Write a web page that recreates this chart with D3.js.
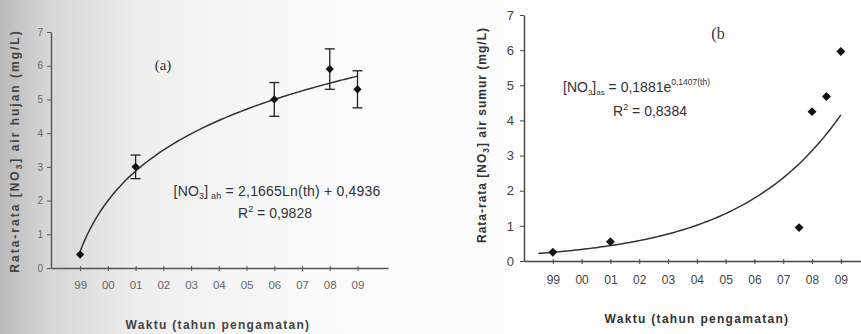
<!DOCTYPE html>
<html>
<head>
<meta charset="utf-8">
<script src="https://cdn.jsdelivr.net/npm/d3@7"></script>
<style>
  body { margin: 0; background: #fff; }
  svg { display: block; font-family: Arial, "Liberation Sans", sans-serif; }
</style>
</head>
<body>
<div id="chart"></div>
<script>
// year labels along both x axes (index 0 = 1999)
var yearLabels = ["99", "00", "01", "02", "03", "04", "05", "06", "07", "08", "09"];
var yTicks = [0, 1, 2, 3, 4, 5, 6, 7];

// panel (a): rain water nitrate, mean + error
var aIndex = [0, 2, 7, 9, 10];
var aMean  = [0.4, 3.0, 5.0, 5.9, 5.3];
var aErr   = [0, 0.35, 0.5, 0.6, 0.55];

// panel (b): well water nitrate
var bIndex = [0, 2, 8.55, 9, 9.5, 10];
var bValue = [0.25, 0.55, 0.95, 4.25, 4.68, 5.96];

// fitted trend lines printed on the chart
var aFit = { a: 2.1665, b: 0.4936 };   // a*ln(th) + b, th = index + 1
var bFit = { a: 0.1881, k: 0.1407 };   // a*exp(k*th), th = 2*index + 2

var W = 861, H = 334;
var svg = d3.select("#chart").append("svg").attr("width", W).attr("height", H);

// scanned page shading on the left
var defs = svg.append("defs");
var grad = defs.append("linearGradient").attr("id", "scan").attr("x1", 0).attr("x2", 1).attr("y1", 0).attr("y2", 0);
grad.append("stop").attr("offset", "0%").attr("stop-color", "#b9b9b9");
grad.append("stop").attr("offset", "5%").attr("stop-color", "#d4d4d4");
grad.append("stop").attr("offset", "16%").attr("stop-color", "#eeeeee");
grad.append("stop").attr("offset", "35%").attr("stop-color", "#fafafa");
grad.append("stop").attr("offset", "100%").attr("stop-color", "#ffffff");
svg.append("rect").attr("width", W).attr("height", H).attr("fill", "url(#scan)");

var diamond = function(size) {
  return d3.symbol().type(d3.symbolSquare).size(size);
};

function panel(opt) {
  var x = d3.scaleLinear().domain(opt.xDomain).range(opt.xRange);
  var y = d3.scaleLinear().domain([0, 7]).range(opt.yRange);
  var g = svg.append("g");

  // x axis
  var xAxis = d3.axisBottom(x)
    .tickValues(d3.range(yearLabels.length))
    .tickFormat(function(d) { return yearLabels[d]; })
    .tickSize(4).tickSizeOuter(0);
  var gx = g.append("g").attr("transform", "translate(0," + opt.yRange[0] + ")").call(xAxis);
  gx.select(".domain").attr("stroke", opt.axisColor).attr("stroke-width", 1.6);
  gx.selectAll(".tick line").attr("stroke", opt.axisColor).attr("y1", -2).attr("y2", 3);
  gx.selectAll(".tick text").attr("fill", opt.textColor).attr("font-size", opt.xTickSize)
    .attr("dy", opt.xTickDy);

  // y axis
  var yAxis = d3.axisLeft(y).tickValues(yTicks).tickFormat(d3.format("d")).tickSize(4).tickSizeOuter(0);
  var gy = g.append("g").attr("transform", "translate(" + opt.xRange[0] + ",0)").call(yAxis);
  gy.select(".domain").attr("stroke", opt.axisColor).attr("stroke-width", 1.4);
  gy.selectAll(".tick line").attr("stroke", opt.axisColor);
  gy.selectAll(".tick text").attr("fill", opt.textColor).attr("font-size", opt.yTickSize)
    .attr("x", -opt.yTickPad);

  // trend line
  var line = d3.line().x(function(d) { return x(d[0]); }).y(function(d) { return y(d[1]); })
    .curve(d3.curveBasis);
  g.append("path").datum(opt.fit).attr("d", line)
    .attr("fill", "none").attr("stroke", "#333").attr("stroke-width", 1.5);

  // axis titles
  var yl = g.append("text")
    .attr("transform", "translate(" + opt.yLabelX + "," + opt.yLabelY + ") rotate(-90)")
    .attr("text-anchor", "middle").attr("font-weight", "bold").attr("font-size", opt.labelSize)
    .attr("letter-spacing", opt.yLabelSpacing).attr("fill", opt.labelColor);
  yl.append("tspan").text("Rata-rata [NO");
  yl.append("tspan").text("3").attr("font-size", opt.labelSize * 0.7).attr("dy", 3);
  yl.append("tspan").text("] " + opt.yLabelRest).attr("dy", -3);

  g.append("text").attr("x", opt.xLabelX).attr("y", opt.xLabelY)
    .attr("text-anchor", "middle").attr("font-weight", "bold").attr("font-size", opt.labelSize)
    .attr("letter-spacing", 1.3).attr("fill", opt.labelColor).text("Waktu (tahun pengamatan)");

  return { g: g, x: x, y: y };
}

// ---- panel (a)
var aCurve = d3.range(0, 10.01, 0.1).map(function(i) { return [i, aFit.a * Math.log(i + 1) + aFit.b]; });
var pa = panel({
  xDomain: [-1.05, 11.1], xRange: [51, 388], yRange: [268, 32],
  axisColor: "#555", textColor: "#666", labelColor: "#444",
  xTickSize: 11.5, xTickDy: "1.2em", yTickSize: 10, yTickPad: 8,
  fit: aCurve, yLabelX: 19, yLabelY: 151, yLabelRest: "air hujan (mg/L)", yLabelSpacing: 2,
  xLabelX: 218, xLabelY: 329, labelSize: 12
});

var aData = aIndex.map(function(d, i) { return { i: d, v: aMean[i], e: aErr[i] }; });
var eb = pa.g.selectAll(".err").data(aData.filter(function(d) { return d.e > 0; })).enter().append("g")
  .attr("stroke", "#222").attr("stroke-width", 1.3);
eb.append("line").attr("x1", function(d) { return pa.x(d.i); }).attr("x2", function(d) { return pa.x(d.i); })
  .attr("y1", function(d) { return pa.y(d.v + d.e); }).attr("y2", function(d) { return pa.y(d.v - d.e); });
eb.append("line").attr("x1", function(d) { return pa.x(d.i) - 5; }).attr("x2", function(d) { return pa.x(d.i) + 5; })
  .attr("y1", function(d) { return pa.y(d.v + d.e); }).attr("y2", function(d) { return pa.y(d.v + d.e); });
eb.append("line").attr("x1", function(d) { return pa.x(d.i) - 5; }).attr("x2", function(d) { return pa.x(d.i) + 5; })
  .attr("y1", function(d) { return pa.y(d.v - d.e); }).attr("y2", function(d) { return pa.y(d.v - d.e); });
pa.g.selectAll(".pt").data(aData).enter().append("path")
  .attr("d", diamond(34))
  .attr("transform", function(d) { return "translate(" + pa.x(d.i) + "," + pa.y(d.v) + ") rotate(45)"; })
  .attr("fill", "#111");

pa.g.append("text").attr("x", 163).attr("y", 70).attr("text-anchor", "middle")
  .attr("font-family", "'Liberation Serif', 'Times New Roman', serif").attr("font-size", 15)
  .attr("fill", "#333").text("(a)");

var eqA = pa.g.append("text").attr("x", 277).attr("y", 196).attr("text-anchor", "middle")
  .attr("font-size", 14).attr("letter-spacing", 0.2).attr("fill", "#333");
eqA.append("tspan").text("[NO");
eqA.append("tspan").text("3").attr("font-size", 9).attr("dy", 3);
eqA.append("tspan").text("]").attr("dy", -3);
eqA.append("tspan").text(" ah").attr("font-size", 9).attr("dy", 3);
eqA.append("tspan").text(" = 2,1665Ln(th) + 0,4936").attr("dy", -3);
var rA = pa.g.append("text").attr("x", 275).attr("y", 218).attr("text-anchor", "middle")
  .attr("font-size", 14).attr("fill", "#333");
rA.append("tspan").text("R");
rA.append("tspan").text("2").attr("font-size", 9).attr("dy", -6);
rA.append("tspan").text(" = 0,9828").attr("dy", 6);

// ---- panel (b)
var bCurve = d3.range(-0.5, 10.01, 0.1).map(function(i) { return [i, bFit.a * Math.exp(bFit.k * (2 * i + 2))]; });
var pb = panel({
  xDomain: [-1.0, 10.7], xRange: [524, 861], yRange: [261, 15],
  axisColor: "#444", textColor: "#444", labelColor: "#333",
  xTickSize: 12, xTickDy: "1.3em", yTickSize: 13, yTickPad: 10,
  fit: bCurve, yLabelX: 486, yLabelY: 135, yLabelRest: "air sumur (mg/L)", yLabelSpacing: 1,
  xLabelX: 697, xLabelY: 323, labelSize: 12
});

var bData = bIndex.map(function(d, i) { return { i: d, v: bValue[i] }; });
pb.g.selectAll(".pt").data(bData).enter().append("path")
  .attr("d", diamond(40))
  .attr("transform", function(d) { return "translate(" + pb.x(d.i) + "," + pb.y(d.v) + ") rotate(45)"; })
  .attr("fill", "#111");

pb.g.append("text").attr("x", 718).attr("y", 39).attr("text-anchor", "middle")
  .attr("font-family", "'Liberation Serif', 'Times New Roman', serif").attr("font-size", 16)
  .attr("fill", "#333").text("(b");

var eqB = pb.g.append("text").attr("x", 563).attr("y", 92).attr("font-size", 14).attr("fill", "#333");
eqB.append("tspan").text("[NO");
eqB.append("tspan").text("3").attr("font-size", 8).attr("dy", 3);
eqB.append("tspan").text("]").attr("dy", -3);
eqB.append("tspan").text("as").attr("font-size", 8).attr("dy", 3);
eqB.append("tspan").text(" = 0,1881e").attr("dy", -3);
eqB.append("tspan").text("0,1407(th)").attr("font-size", 8.5).attr("dy", -7);
var rB = pb.g.append("text").attr("x", 650).attr("y", 116).attr("text-anchor", "middle")
  .attr("font-size", 14).attr("fill", "#333");
rB.append("tspan").text("R");
rB.append("tspan").text("2").attr("font-size", 9).attr("dy", -6);
rB.append("tspan").text(" = 0,8384").attr("dy", 6);
</script>
</body>
</html>
